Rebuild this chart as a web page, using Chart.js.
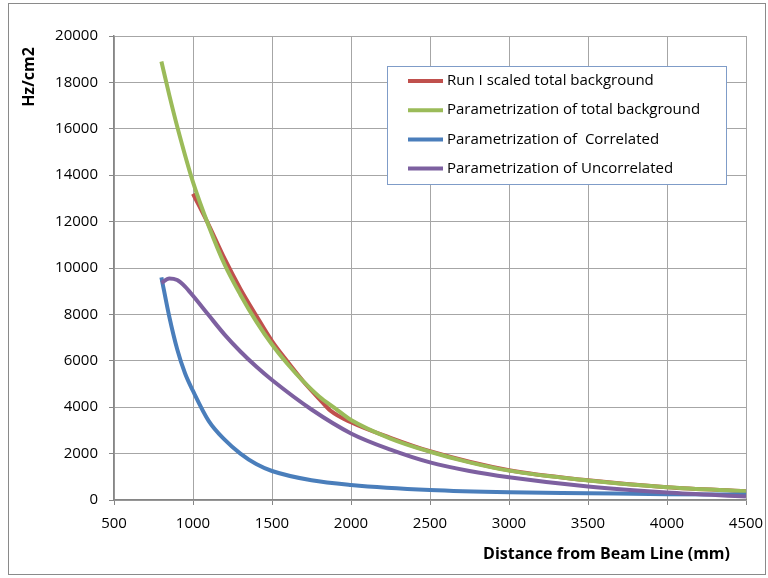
<!DOCTYPE html>
<html>
<head>
<meta charset="utf-8">
<script src="https://cdn.jsdelivr.net/npm/chart.js@4.4.1/dist/chart.umd.min.js"></script>
<style>
  body { margin: 0; background: #fff; }
  canvas { display: block; }
</style>
</head>
<body>
<canvas id="rates" width="768" height="578"></canvas>
<script>
// distance from beam line (mm) and rate (Hz/cm2) for each curve
const runIDist = [1000, 1100, 1200, 1300, 1400, 1500, 1600, 1700, 1800, 1870, 2000, 2250, 2500, 3000, 3500, 4000, 4500];
const runIRate = [13200, 11850, 10400, 9100, 7950, 6850, 5950, 5100, 4350, 3850, 3350, 2680, 2100, 1280, 850, 550, 380];

const totalDist = [800, 850, 900, 1000, 1100, 1200, 1300, 1400, 1500, 1600, 1700, 1800, 1900, 2000, 2250, 2500, 2750, 3000, 3500, 4000, 4500];
const totalRate = [18900, 17450, 16100, 13700, 11800, 10150, 8850, 7700, 6700, 5850, 5100, 4450, 3950, 3450, 2650, 2080, 1620, 1265, 840, 545, 375];

const corrDist = [800, 850, 900, 950, 1000, 1100, 1200, 1300, 1400, 1500, 1750, 2000, 2500, 3000, 3500, 4000, 4500];
const corrRate = [9600, 7900, 6500, 5450, 4700, 3400, 2600, 2000, 1550, 1250, 850, 650, 430, 330, 290, 250, 230];

const uncorrDist = [800, 850, 900, 950, 1000, 1100, 1200, 1300, 1400, 1500, 1750, 2000, 2250, 2500, 2750, 3000, 3500, 4000, 4500];
const uncorrRate = [9350, 9550, 9480, 9200, 8800, 7960, 7130, 6400, 5750, 5170, 3900, 2870, 2170, 1620, 1250, 980, 580, 320, 150];

const seriesNames = [
  'Run I scaled total background',
  'Parametrization of total background',
  'Parametrization of  Correlated',
  'Parametrization of Uncorrelated',
];
const seriesColors = ['#c0504d', '#9bbb59', '#4a7ebb', '#7d60a0'];

const xTicks = [500, 1000, 1500, 2000, 2500, 3000, 3500, 4000, 4500];
const yTicks = [0, 2000, 4000, 6000, 8000, 10000, 12000, 14000, 16000, 18000, 20000];

const fontFamily = '"Open Sans", "Noto Sans", sans-serif';

function toPoints(xs, ys) {
  return xs.map((x, i) => ({ x: x, y: ys[i] }));
}

function makeDataset(idx, xs, ys) {
  return {
    label: seriesNames[idx],
    data: toPoints(xs, ys),
    borderColor: seriesColors[idx],
    backgroundColor: seriesColors[idx],
    borderWidth: 4,
    pointRadius: 0,
    cubicInterpolationMode: 'monotone',
    // later series sit on top
    order: 4 - idx,
  };
}

// frame, axis titles and the boxed legend
const decorations = {
  id: 'decorations',
  beforeDraw(chart) {
    const ctx = chart.ctx;
    ctx.save();
    ctx.fillStyle = '#fff';
    ctx.fillRect(0, 0, chart.width, chart.height);
    ctx.strokeStyle = '#8a8a8a';
    ctx.lineWidth = 1;
    ctx.strokeRect(8.5, 3.5, 757, 571);
    ctx.restore();
  },
  afterDraw(chart) {
    const ctx = chart.ctx;
    ctx.save();
    ctx.fillStyle = '#000';
    ctx.font = 'bold 16px ' + fontFamily;

    ctx.textAlign = 'right';
    ctx.textBaseline = 'middle';
    ctx.fillText('Distance from Beam Line (mm)', 730, 554);

    ctx.translate(29, 77);
    ctx.rotate(-Math.PI / 2);
    ctx.textAlign = 'center';
    ctx.fillText('Hz/cm2', 0, 0);
    ctx.setTransform(1, 0, 0, 1, 0, 0);

    const box = { x: 387.5, y: 66.5, w: 339, h: 118 };
    ctx.fillStyle = '#fff';
    ctx.fillRect(box.x, box.y, box.w, box.h);
    ctx.strokeStyle = '#7f9cc8';
    ctx.lineWidth = 1;
    ctx.strokeRect(box.x, box.y, box.w, box.h);

    ctx.font = '15px ' + fontFamily;
    ctx.textAlign = 'left';
    ctx.textBaseline = 'middle';
    seriesNames.forEach((name, i) => {
      const y = 81 + i * 29.2;
      ctx.strokeStyle = seriesColors[i];
      ctx.lineWidth = 4;
      ctx.beginPath();
      ctx.moveTo(408, y);
      ctx.lineTo(443, y);
      ctx.stroke();
      ctx.fillStyle = '#000';
      ctx.fillText(name, 447, y);
    });
    ctx.restore();
  },
};

const tickFont = { family: fontFamily, size: 15 };

new Chart(document.getElementById('rates'), {
  type: 'line',
  data: {
    datasets: [
      makeDataset(0, runIDist, runIRate),
      makeDataset(1, totalDist, totalRate),
      makeDataset(2, corrDist, corrRate),
      makeDataset(3, uncorrDist, uncorrRate),
    ],
  },
  options: {
    responsive: false,
    animation: false,
    layout: { padding: { left: 0, top: 36, right: 22, bottom: 0 } },
    plugins: {
      legend: { display: false },
      tooltip: { enabled: false },
    },
    scales: {
      x: {
        type: 'linear',
        min: xTicks[0],
        max: xTicks[xTicks.length - 1],
        afterBuildTicks: scale => {
          scale.ticks = xTicks.map(v => ({ value: v }));
        },
        afterFit: scale => {
          scale.height = 78;
          scale.paddingLeft = 0;
          scale.paddingRight = 0;
        },
        ticks: {
          color: '#000',
          font: tickFont,
          padding: 10,
          maxRotation: 0,
          callback: v => String(v),
        },
        grid: { color: '#a6a6a6', tickColor: '#868686', tickLength: 5 },
        border: { color: '#868686', width: 1.5 },
      },
      y: {
        min: yTicks[0],
        max: yTicks[yTicks.length - 1],
        afterBuildTicks: scale => {
          scale.ticks = yTicks.map(v => ({ value: v }));
        },
        afterFit: scale => {
          scale.width = 114;
          scale.paddingTop = 0;
          scale.paddingBottom = 0;
        },
        ticks: {
          color: '#000',
          font: tickFont,
          padding: 11,
          callback: v => String(v),
        },
        grid: { color: '#a6a6a6', tickColor: '#868686', tickLength: 5 },
        border: { color: '#868686', width: 1.5 },
      },
    },
  },
  plugins: [decorations],
});
</script>
</body>
</html>
